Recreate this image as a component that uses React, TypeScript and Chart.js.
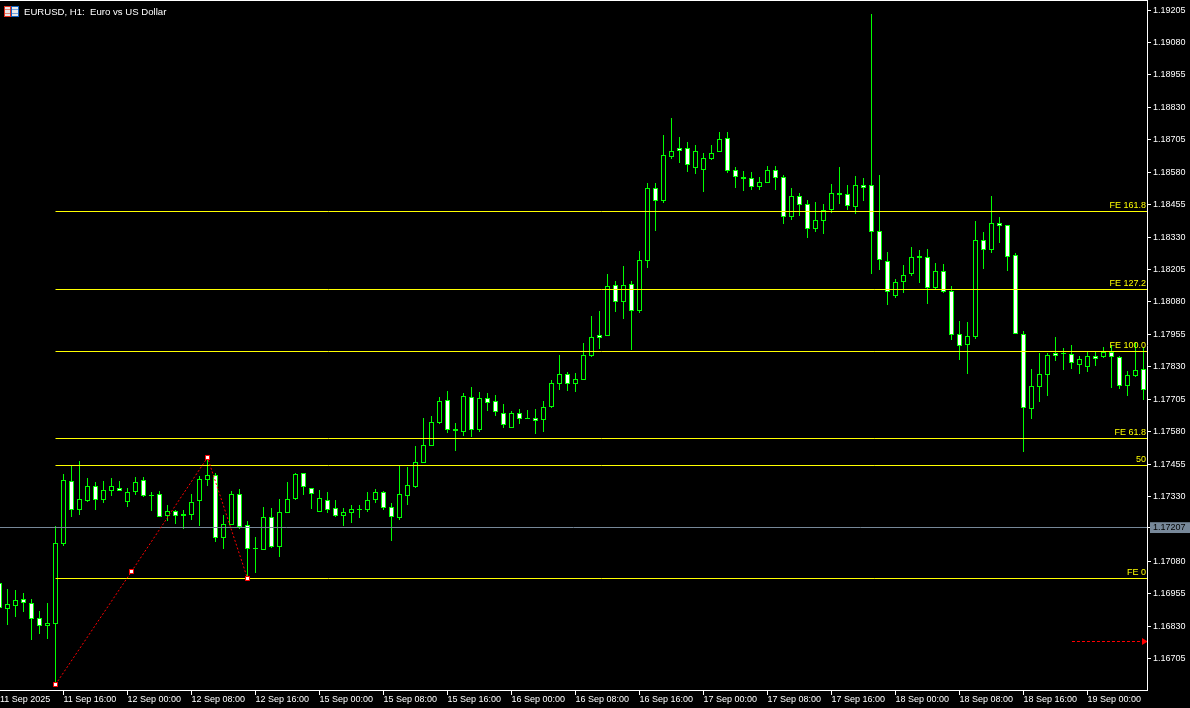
import React, { useEffect, useRef } from "react";
import { Chart, registerables } from "chart.js";

Chart.register(...registerables);

const firstHour = -7;
const opens = [
  1.16995,1.16898,1.16909,1.16934,1.16918,1.16860,1.16832,
  1.16840,1.17148,1.17388,1.17279,1.17314,1.17369,1.17318,1.17352,1.17361,1.17310,
  1.17349,1.17392,1.17336,1.17338,1.17256,1.17273,1.17261,1.17260,1.17314,1.17395,
  1.17412,1.17171,1.17220,1.17338,1.17219,1.17128,1.17125,1.17250,1.17137,1.17268,
  1.17322,1.17419,1.17362,1.17272,1.17315,1.17284,1.17256,1.17268,1.17282,1.17278,
  1.17317,1.17346,1.17288,1.17248,1.17333,1.17368,1.17460,1.17526,1.17615,1.17701,
  1.17589,1.17580,1.17712,1.17588,1.17708,1.17697,1.17651,1.17595,1.17651,1.17631,
  1.17631,1.17626,1.17676,1.17765,1.17801,1.17765,1.17780,1.17873,1.17951,1.17950,
  1.18144,1.18081,1.18148,1.18046,1.18239,1.18518,1.18470,1.18640,1.18672,1.18672,
  1.18598,1.18590,1.18632,1.18659,1.18711,1.18587,1.18560,1.18557,1.18524,1.18540,
  1.18587,1.18560,1.18409,1.18487,1.18456,1.18363,1.18393,1.18436,1.18499,1.18495,
  1.18447,1.18530,1.18530,1.18352,1.18237,1.18104,1.18158,1.18189,1.18256,1.18252,
  1.18135,1.18198,1.18121,1.17955,1.17915,1.17946,1.18318,1.18282,1.18383,1.18375,
  1.18260,1.17955,1.17669,1.17753,1.17800,1.17883,1.17883,1.17878,1.17838,1.17831,
  1.17870,1.17869,1.17887,1.17866,1.17757,1.17796,1.17820,
];
const closes = [
  1.16899,1.16916,1.16930,1.16921,1.16859,1.16832,1.16841,
  1.17149,1.17392,1.17279,1.17319,1.17369,1.17318,1.17354,1.17369,1.17352,1.17346,
  1.17385,1.17333,1.17333,1.17252,1.17273,1.17256,1.17256,1.17307,1.17396,1.17412,
  1.17171,1.17223,1.17338,1.17212,1.17129,1.17131,1.17250,1.17137,1.17269,1.17319,
  1.17415,1.17368,1.17341,1.17323,1.17279,1.17256,1.17269,1.17281,1.17279,1.17315,
  1.17346,1.17287,1.17252,1.17338,1.17373,1.17462,1.17527,1.17616,1.17697,1.17588,
  1.17584,1.17716,1.17588,1.17708,1.17692,1.17657,1.17607,1.17651,1.17630,1.17629,
  1.17622,1.17674,1.17766,1.17801,1.17765,1.17782,1.17874,1.17944,1.17942,1.18140,
  1.18081,1.18144,1.18046,1.18240,1.18518,1.18470,1.18645,1.18661,1.18661,1.18609,
  1.18661,1.18634,1.18653,1.18707,1.18586,1.18563,1.18555,1.18524,1.18541,1.18587,
  1.18559,1.18409,1.18487,1.18455,1.18363,1.18395,1.18433,1.18499,1.18494,1.18451,
  1.18530,1.18521,1.18348,1.18243,1.18120,1.18156,1.18183,1.18252,1.18251,1.18135,
  1.18198,1.18120,1.17954,1.17912,1.17948,1.18318,1.18282,1.18383,1.18374,1.18252,
  1.17955,1.17670,1.17755,1.17801,1.17874,1.17873,1.17879,1.17846,1.17859,1.17870,
  1.17861,1.17887,1.17866,1.17757,1.17797,1.17816,1.17742,
];
const highs = [
  1.17000,1.16972,1.16970,1.16957,1.16935,1.16887,1.16919,
  1.17216,1.17417,1.17448,1.17467,1.17401,1.17387,1.17390,1.17401,1.17390,1.17363,
  1.17405,1.17405,1.17347,1.17351,1.17297,1.17277,1.17278,1.17340,1.17409,1.17481,
  1.17419,1.17259,1.17351,1.17359,1.17236,1.17174,1.17289,1.17286,1.17320,1.17386,
  1.17421,1.17419,1.17362,1.17355,1.17347,1.17317,1.17286,1.17297,1.17297,1.17347,
  1.17359,1.17351,1.17305,1.17448,1.17444,1.17525,1.17633,1.17640,1.17714,1.17737,
  1.17613,1.17729,1.17752,1.17733,1.17729,1.17721,1.17687,1.17660,1.17667,1.17663,
  1.17667,1.17698,1.17779,1.17875,1.17810,1.17806,1.17922,1.18026,1.18045,1.18188,
  1.18160,1.18217,1.18160,1.18276,1.18539,1.18539,1.18724,1.18789,1.18716,1.18697,
  1.18685,1.18654,1.18685,1.18735,1.18735,1.18600,1.18585,1.18581,1.18562,1.18604,
  1.18604,1.18569,1.18519,1.18500,1.18473,1.18465,1.18458,1.18535,1.18600,1.18531,
  1.18566,1.18558,1.19190,1.18569,1.18273,1.18167,1.18221,1.18292,1.18280,1.18284,
  1.18230,1.18226,1.18142,1.18007,1.18003,1.18392,1.18348,1.18489,1.18408,1.18375,
  1.18267,1.17968,1.17822,1.17883,1.17883,1.17945,1.17902,1.17914,1.17872,1.17887,
  1.17887,1.17906,1.17914,1.17872,1.17814,1.17926,1.17906,
];
const lows = [
  1.16890,1.16835,1.16867,1.16886,1.16777,1.16800,1.16781,
  1.16606,1.17140,1.17251,1.17259,1.17309,1.17278,1.17305,1.17332,1.17351,1.17289,
  1.17336,1.17328,1.17274,1.17251,1.17236,1.17224,1.17205,1.17239,1.17216,1.17370,
  1.17155,1.17128,1.17219,1.17205,1.17015,1.17035,1.17125,1.17131,1.17097,1.17266,
  1.17317,1.17336,1.17282,1.17272,1.17266,1.17251,1.17216,1.17228,1.17247,1.17270,
  1.17305,1.17278,1.17158,1.17239,1.17297,1.17363,1.17459,1.17525,1.17610,1.17575,
  1.17505,1.17563,1.17559,1.17579,1.17660,1.17640,1.17594,1.17595,1.17610,1.17629,
  1.17571,1.17579,1.17671,1.17741,1.17737,1.17733,1.17779,1.17868,1.17899,1.17949,
  1.18041,1.18014,1.17895,1.18037,1.18211,1.18354,1.18462,1.18631,1.18616,1.18581,
  1.18573,1.18504,1.18627,1.18658,1.18577,1.18519,1.18508,1.18512,1.18512,1.18540,
  1.18512,1.18381,1.18396,1.18411,1.18327,1.18350,1.18342,1.18423,1.18458,1.18435,
  1.18419,1.18469,1.18188,1.18203,1.18068,1.18095,1.18113,1.18180,1.18153,1.18072,
  1.18130,1.18113,1.17933,1.17856,1.17802,1.17937,1.18207,1.18269,1.18307,1.18199,
  1.17955,1.17502,1.17629,1.17694,1.17717,1.17852,1.17818,1.17822,1.17802,1.17810,
  1.17833,1.17864,1.17748,1.17744,1.17717,1.17791,1.17702,
];

const priceTicks = [
  1.19205, 1.1908, 1.18955, 1.1883, 1.18705, 1.1858, 1.18455, 1.1833, 1.18205, 1.1808,
  1.17955, 1.1783, 1.17705, 1.1758, 1.17455, 1.1733, 1.1708, 1.16955, 1.1683, 1.16705,
];
const currentLevel = 1.1721;
const currentLabel = "1.17207";

const feLevels = [1.184287, 1.18128, 1.17889, 1.175536, 1.174495, 1.170139];
const feLabels = ["FE 161.8", "FE 127.2", "FE 100.0", "FE 61.8", "50", "FE 0"];

const zigzagHours = [0, 9.5, 19, 24];
const zigzagPrices = [1.166053, 1.170409, 1.174803, 1.170139];

const arrowHours = [127.06, 136.06];
const arrowPrice = 1.16771;

const timeTickHours = [1, 9, 17, 25, 33, 41, 49, 57, 65, 73, 81, 89, 97, 105, 113, 121, 129];
const timeTickLabels = [
  "11 Sep 16:00", "12 Sep 00:00", "12 Sep 08:00", "12 Sep 16:00", "15 Sep 00:00", "15 Sep 08:00",
  "15 Sep 16:00", "16 Sep 00:00", "16 Sep 08:00", "16 Sep 16:00", "17 Sep 00:00", "17 Sep 08:00",
  "17 Sep 16:00", "18 Sep 00:00", "18 Sep 08:00", "18 Sep 16:00", "19 Sep 00:00",
];
const firstTimeLabel = "11 Sep 2025";
const titleText = "EURUSD, H1:  Euro vs US Dollar";

const X_MIN = -55.5 / 8;
const X_MAX = (1147 - 55.5) / 8;
const Y_MAX = 1.19244;
const Y_MIN = 1.16584;

const FONT = '9px "Liberation Sans"';
const GREEN = "#00ff00";
const YELLOW = "#ffff00";
const RED = "#ff0000";
const SLATE = "#778899";

const snapPlugin = {
  id: "snap",
  beforeDatasetDraw(chart: any, args: any) {
    const meta = args.meta;
    for (const el of meta.data) {
      if (meta.type === "bar") {
        const top = Math.round(Math.min(el.y, el.base));
        let bottom = Math.round(Math.max(el.y, el.base));
        if (bottom <= top) bottom = top + 1;
        el.y = top;
        el.base = bottom;
        el.x = Math.floor(el.x) + 0.5;
      } else {
        el.y = Math.floor(el.y) + 0.5;
      }
    }
  },
};

const overlayPlugin = {
  id: "overlay",
  beforeDraw(chart: any) {
    const c = chart.ctx;
    c.save();
    c.fillStyle = "#000";
    c.fillRect(0, 0, chart.width, chart.height);
    c.restore();
  },
  afterDraw(chart: any) {
    const c = chart.ctx;
    const yScale = chart.scales.y;
    c.save();
    // top frame line of the plot
    c.fillStyle = "#fff";
    c.fillRect(chart.chartArea.left, 0, chart.chartArea.width, 1);
    c.font = FONT;
    c.textBaseline = "alphabetic";
    c.textAlign = "right";
    c.fillStyle = YELLOW;
    feLevels.forEach((lv, k) => {
      const row = Math.floor(yScale.getPixelForValue(lv));
      c.fillText(feLabels[k], 1146, row - 3);
    });
    c.textAlign = "left";
    c.fillStyle = "#fff";
    c.font = '9.6px "Liberation Sans"';
    c.fillText(titleText, 24, 15);
    // symbol icon
    c.fillStyle = "#e8e8e8";
    c.fillRect(4, 6, 15, 11);
    c.strokeStyle = "#e0301e";
    c.lineWidth = 1;
    c.strokeRect(4.5, 6.5, 6, 10);
    c.strokeStyle = "#1060c0";
    c.strokeRect(11.5, 6.5, 7, 10);
    c.fillStyle = "#e88070";
    c.fillRect(5, 9, 5, 1);
    c.fillRect(5, 13, 5, 1);
    c.fillStyle = "#70a0e0";
    c.fillRect(12, 9, 6, 1);
    c.fillRect(12, 13, 6, 1);
    c.restore();
  },
};

const noPadding = (s: any) => {
  s.paddingLeft = 0;
  s.paddingRight = 0;
  s.paddingTop = 0;
  s.paddingBottom = 0;
};

export default function App() {
  const ref = useRef<HTMLCanvasElement | null>(null);
  useEffect(() => {
    document.body.style.margin = "0";
    document.body.style.background = "#000";
    const hours = opens.map((_, k) => k + firstHour);
    const hline = (level: number, color: string, order: number) => ({
      type: "line",
      data: [
        { x: zigzagHours[0], y: level },
        { x: X_MAX, y: level },
      ],
      borderColor: color,
      borderWidth: 1,
      pointRadius: 0,
      order,
    });
    const chart = new Chart(ref.current as HTMLCanvasElement, {
      type: "bar",
      data: {
        datasets: [
          {
            type: "line",
            data: [
              { x: X_MIN, y: currentLevel },
              { x: X_MAX, y: currentLevel },
            ],
            borderColor: SLATE,
            borderWidth: 1,
            pointRadius: 0,
            order: 2,
          },
          ...feLevels.map((lv) => hline(lv, YELLOW, 1)),
          {
            type: "line",
            data: zigzagHours.map((h, k) => ({ x: h, y: zigzagPrices[k] })),
            borderColor: RED,
            borderWidth: 1,
            borderDash: [2, 2],
            pointStyle: "rect",
            pointRadius: 2.83,
            pointBackgroundColor: "#fff",
            pointBorderColor: RED,
            pointBorderWidth: 1,
            order: 0,
          },
          {
            type: "line",
            data: arrowHours.map((h) => ({ x: h, y: arrowPrice })),
            borderColor: RED,
            borderWidth: 1,
            borderDash: [3, 2],
            pointStyle: "triangle",
            pointRotation: 90,
            pointRadius: [0, 4],
            pointBackgroundColor: RED,
            pointBorderColor: RED,
            pointBorderWidth: 0,
            order: 0,
          },
          {
            data: hours.map((h, k) => ({ x: h, y: [opens[k], closes[k]] })),
            backgroundColor: opens.map((o, k) => (closes[k] >= o ? "#000" : "#fff")),
            borderColor: GREEN,
            borderWidth: 1,
            borderSkipped: false,
            inflateAmount: 0,
            barThickness: 5,
            grouped: false,
            order: 3,
          },
          {
            data: hours.map((h, k) => ({ x: h, y: [lows[k], highs[k]] })),
            backgroundColor: GREEN,
            borderWidth: 0,
            inflateAmount: 0,
            barThickness: 1,
            grouped: false,
            order: 4,
          },
        ] as any,
      },
      options: {
        responsive: false,
        animation: false,
        layout: { padding: 0, autoPadding: false },
        plugins: { legend: { display: false }, tooltip: { enabled: false } },
        scales: {
          x: {
            type: "linear",
            min: X_MIN,
            max: X_MAX,
            offset: false,
            position: "bottom",
            afterFit: (s: any) => {
              s.height = 18;
              noPadding(s);
            },
            afterBuildTicks: (s: any) => {
              s.ticks = [X_MIN, ...timeTickHours].map((value) => ({ value }));
            },
            border: { color: "#fff", width: 1 },
            grid: {
              offset: false,
              drawOnChartArea: false,
              drawTicks: true,
              tickLength: 5,
              color: (ctx: any) => (ctx.index === 0 ? "rgba(0,0,0,0)" : "#fff"),
            },
            ticks: {
              autoSkip: false,
              maxRotation: 0,
              minRotation: 0,
              align: "start",
              padding: -1,
              color: "#fff",
              font: { family: "Liberation Sans", size: 9 },
              callback: (_v: any, i: number) =>
                i === 0 ? firstTimeLabel : timeTickLabels[i - 1],
            },
          },
          y: {
            type: "linear",
            position: "right",
            min: Y_MIN,
            max: Y_MAX,
            afterFit: (s: any) => {
              s.width = 43;
              noPadding(s);
            },
            afterBuildTicks: (s: any) => {
              s.ticks = [...priceTicks, currentLevel]
                .sort((a, b) => b - a)
                .map((value) => ({ value }));
            },
            border: { color: "#fff", width: 1 },
            grid: {
              drawOnChartArea: false,
              drawTicks: true,
              tickLength: 4,
              color: "#fff",
            },
            ticks: {
              autoSkip: false,
              padding: 2,
              color: (ctx: any) => (ctx.tick.value === currentLevel ? "#000" : "#fff"),
              font: { family: "Liberation Sans", size: 9 },
              showLabelBackdrop: (ctx: any) => ctx.tick.value === currentLevel,
              backdropColor: SLATE,
              backdropPadding: { left: 3, right: 5, top: 0, bottom: 0 },
              callback: (v: any) => (v === currentLevel ? currentLabel : Number(v).toFixed(5)),
            },
          },
        },
      } as any,
      plugins: [overlayPlugin, snapPlugin],
    } as any);
    return () => chart.destroy();
  }, []);
  return <canvas ref={ref} width={1190} height={708} style={{ display: "block" }} />;
}
